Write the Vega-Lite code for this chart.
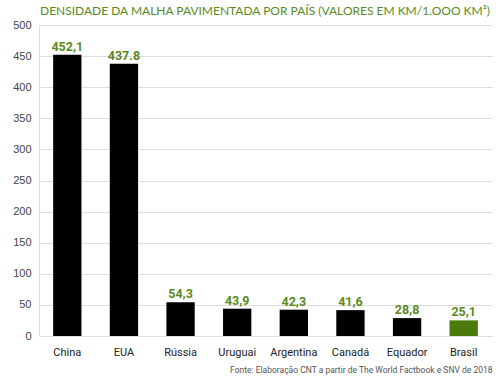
{
  "$schema": "https://vega.github.io/schema/vega-lite/v6.json",
  "autosize": "none",
  "width": 453,
  "height": 311,
  "padding": {"left": 39, "top": 25, "right": 8, "bottom": 46},
  "background": "white",
  "title": {
    "text": "DENSIDADE DA MALHA PAVIMENTADA POR PAÍS (VALORES EM KM/1.OOO KM²)",
    "anchor": "start",
    "frame": "group",
    "offset": 1,
    "dx": 1,
    "font": "Lato",
    "fontSize": 12,
    "fontWeight": "normal",
    "color": "#5a8a1e"
  },
  "data": {
    "values": [
      {"pais": "China", "valor": 452.1, "rotulo": "452,1", "destaque": "n"},
      {"pais": "EUA", "valor": 437.8, "rotulo": "437.8", "destaque": "n"},
      {"pais": "Rússia", "valor": 54.3, "rotulo": "54,3", "destaque": "n"},
      {"pais": "Uruguai", "valor": 43.9, "rotulo": "43,9", "destaque": "n"},
      {"pais": "Argentina", "valor": 42.3, "rotulo": "42,3", "destaque": "n"},
      {"pais": "Canadá", "valor": 41.6, "rotulo": "41,6", "destaque": "n"},
      {"pais": "Equador", "valor": 28.8, "rotulo": "28,8", "destaque": "n"},
      {"pais": "Brasil", "valor": 25.1, "rotulo": "25,1", "destaque": "s"}
    ]
  },
  "encoding": {
    "x": {
      "field": "pais",
      "type": "nominal",
      "sort": null,
      "scale": {"paddingInner": 0.5, "paddingOuter": 0.25},
      "axis": {
        "title": "Fonte: Elaboração CNT a partir de The World Factbook e SNV de 2018",
        "titleAnchor": "end",
        "titleFont": "Roboto",
        "titleFontSize": 8.5,
        "titleFontWeight": "normal",
        "titleColor": "#555",
        "titlePadding": 8,
        "labelAngle": 0,
        "labelFont": "Roboto",
        "labelFontSize": 11,
        "labelColor": "#222",
        "labelPadding": 10,
        "ticks": false,
        "domain": false
      }
    },
    "y": {
      "field": "valor",
      "type": "quantitative",
      "scale": {"domain": [0, 500], "nice": false},
      "axis": {
        "title": null,
        "values": [0, 50, 100, 150, 200, 250, 300, 350, 400, 450, 500],
        "labelOverlap": false,
        "labelFont": "Liberation Sans",
        "labelFontSize": 11,
        "labelColor": "#444",
        "labelPadding": 8,
        "ticks": false,
        "domain": true,
        "domainColor": "#dddddd",
        "gridColor": "#dddddd"
      }
    }
  },
  "layer": [
    {
      "mark": {"type": "bar"},
      "encoding": {
        "color": {
          "field": "destaque",
          "type": "nominal",
          "scale": {"domain": ["n", "s"], "range": ["#000000", "#4a7a0c"]},
          "legend": null
        }
      }
    },
    {
      "mark": {"type": "text", "dy": -8, "font": "Roboto", "fontSize": 12.5, "fontWeight": "bold", "color": "#5a8a1e"},
      "encoding": {"text": {"field": "rotulo"}}
    }
  ],
  "config": {"view": {"stroke": null}}
}
